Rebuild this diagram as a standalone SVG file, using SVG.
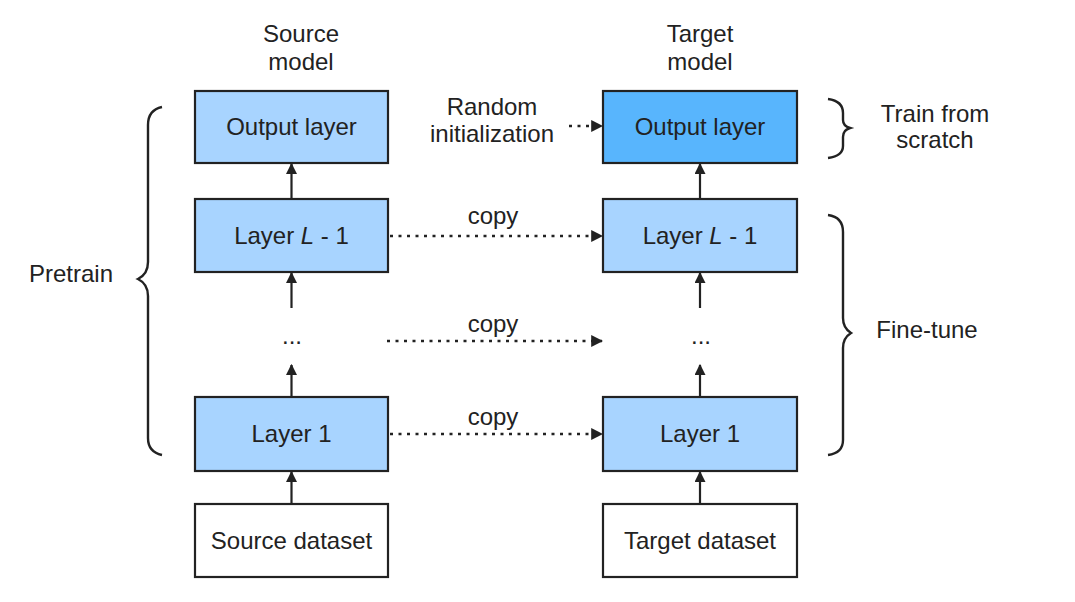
<svg xmlns="http://www.w3.org/2000/svg" width="1075" height="602" viewBox="0 0 1075 602">
<defs>
<style>
.box{stroke:#222;stroke-width:2.2;}
.lb{fill:#a8d4ff;}
.db{fill:#58b5fd;}
.wb{fill:#fff;}
text{font-family:"Liberation Sans",Arial,sans-serif;font-size:24px;fill:#222;text-anchor:middle;}
.solid{stroke:#222;stroke-width:2.2;fill:none;marker-end:url(#ah);}
.dot{stroke:#222;stroke-width:2.4;fill:none;stroke-dasharray:3 5.5;marker-end:url(#ah);}
.brace{stroke:#222;stroke-width:2.4;fill:none;}
</style>
<marker id="ah" viewBox="0 0 10 10" refX="9" refY="5" markerWidth="5" markerHeight="5" orient="auto" markerUnits="strokeWidth">
<path d="M0,0 L10,5 L0,10 z" fill="#222"/>
</marker>
</defs>
<rect width="1075" height="602" fill="#fff"/>

<g id="labels">
<text x="301" y="42">Source</text>
<text x="301" y="70">model</text>
<text x="700" y="42">Target</text>
<text x="700" y="70">model</text>
<text x="492" y="115">Random</text>
<text x="492" y="142">initialization</text>
<text x="935" y="122">Train from</text>
<text x="935" y="148">scratch</text>
<text x="927" y="338">Fine-tune</text>
<text x="71" y="282">Pretrain</text>
<text x="493" y="224">copy</text>
<text x="493" y="332">copy</text>
<text x="493" y="425">copy</text>
</g>

<g id="src-output"><rect class="box lb" x="195" y="91" width="193" height="72"/><text x="291.5" y="135">Output layer</text></g>
<g id="src-layerL1"><rect class="box lb" x="195" y="199" width="193" height="73"/><text x="291.5" y="244">Layer <tspan font-style="italic">L</tspan> - 1</text></g>
<g id="src-dots"><text x="292" y="344" font-size="16">...</text></g>
<g id="src-layer1"><rect class="box lb" x="195" y="397" width="193" height="74"/><text x="291.5" y="442">Layer 1</text></g>
<g id="src-dataset"><rect class="box wb" x="195" y="504" width="193" height="73"/><text x="291.5" y="549">Source dataset</text></g>

<g id="tgt-output"><rect class="box db" x="603" y="91" width="194" height="72"/><text x="700" y="135">Output layer</text></g>
<g id="tgt-layerL1"><rect class="box lb" x="603" y="199" width="194" height="73"/><text x="700" y="244">Layer <tspan font-style="italic">L</tspan> - 1</text></g>
<g id="tgt-dots"><text x="701" y="344" font-size="16">...</text></g>
<g id="tgt-layer1"><rect class="box lb" x="603" y="397" width="194" height="74"/><text x="700" y="442">Layer 1</text></g>
<g id="tgt-dataset"><rect class="box wb" x="603" y="504" width="194" height="73"/><text x="700" y="549">Target dataset</text></g>

<g id="braces">
<path class="brace" d="M162,107 Q148,110 148,125 L148,262 Q148,274 138,279 Q148,284 148,296 L148,438 Q148,452 162,455"/>
<path class="brace" d="M828,99 Q843,101 843,113 L843,120 Q843,126 850,128 Q843,130 843,137 L843,146 Q843,156 828,158"/>
<path class="brace" d="M828,215 Q843,217 843,232 L843,318 Q843,328 851,333 Q843,338 843,348 L843,440 Q843,453 828,455"/>
</g>

<g id="connectors">
<line class="solid" x1="291.5" y1="199" x2="291.5" y2="164"/>
<line class="solid" x1="291.5" y1="308" x2="291.5" y2="273"/>
<line class="solid" x1="291.5" y1="397" x2="291.5" y2="365"/>
<line class="solid" x1="291.5" y1="504" x2="291.5" y2="472"/>
<line class="solid" x1="700" y1="199" x2="700" y2="164"/>
<line class="solid" x1="700" y1="308" x2="700" y2="273"/>
<line class="solid" x1="700" y1="397" x2="700" y2="365"/>
<line class="solid" x1="700" y1="504" x2="700" y2="472"/>
<line class="dot" x1="569" y1="126" x2="602" y2="126"/>
<line class="dot" x1="390" y1="236" x2="602" y2="236"/>
<line class="dot" x1="387" y1="341" x2="602" y2="341"/>
<line class="dot" x1="390" y1="434" x2="602" y2="434"/>
</g>
</svg>
